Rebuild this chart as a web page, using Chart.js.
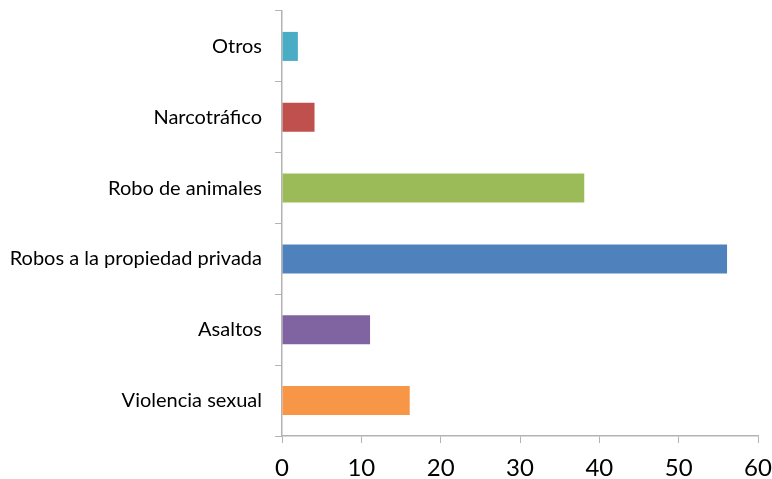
<!DOCTYPE html>
<html>
<head>
<meta charset="utf-8">
<script src="https://cdn.jsdelivr.net/npm/chart.js@4/dist/chart.umd.min.js"></script>
<style>
  html, body { margin: 0; padding: 0; background: #fff; }
  #wrap { width: 772px; height: 479px; }
</style>
</head>
<body>
<div id="wrap"><canvas id="chart" width="772" height="479"></canvas></div>
<script>
/* ─── Data ───────────────────────────────────────────────── */
const categories = ['Otros', 'Narcotráfico', 'Robo de animales', 'Robos a la propiedad privada', 'Asaltos', 'Violencia sexual'];
const values     = [2, 4.1, 38.1, 56.1, 11.1, 16.1];
const barColors  = ['#4BACC6', '#C0504D', '#9BBB59', '#4F81BD', '#8064A2', '#F79646'];
const xTicks     = [0, 10, 20, 30, 40, 50, 60];

const AXIS_GREY = '#b3b3b3';

new Chart(document.getElementById('chart'), {
  type: 'bar',
  data: {
    labels: categories,
    datasets: [{
      data: values,
      backgroundColor: barColors,
      borderWidth: 0,
      barPercentage: 0.41,
      categoryPercentage: 1
    }]
  },
  options: {
    indexAxis: 'y',
    responsive: false,
    animation: false,
    layout: { padding: { top: 11, right: 14, left: 0, bottom: 0 } },
    plugins: { legend: { display: false }, tooltip: { enabled: false } },
    scales: {
      x: {
        min: 0, max: 60,
        afterBuildTicks: (s) => { s.ticks = xTicks.map(v => ({ value: v })); },
        grid: { drawOnChartArea: false, tickLength: 7, color: AXIS_GREY },
        border: { color: AXIS_GREY, width: 1.5 },
        ticks: { color: '#000', padding: 11, maxRotation: 0, font: { family: 'Lato', size: 24 } },
        afterFit: (s) => { s.height = 43; s.paddingLeft = 0; s.paddingRight = 0; }
      },
      y: {
        grid: { drawOnChartArea: false, offset: true, tickLength: 7, color: AXIS_GREY },
        border: { color: AXIS_GREY, width: 1.5 },
        ticks: { color: '#000', padding: 13, font: { family: 'Lato', size: 20 } },
        afterFit: (s) => { s.width = 282; s.paddingTop = 0; s.paddingBottom = 0; }
      }
    }
  }
});
</script>
</body>
</html>
